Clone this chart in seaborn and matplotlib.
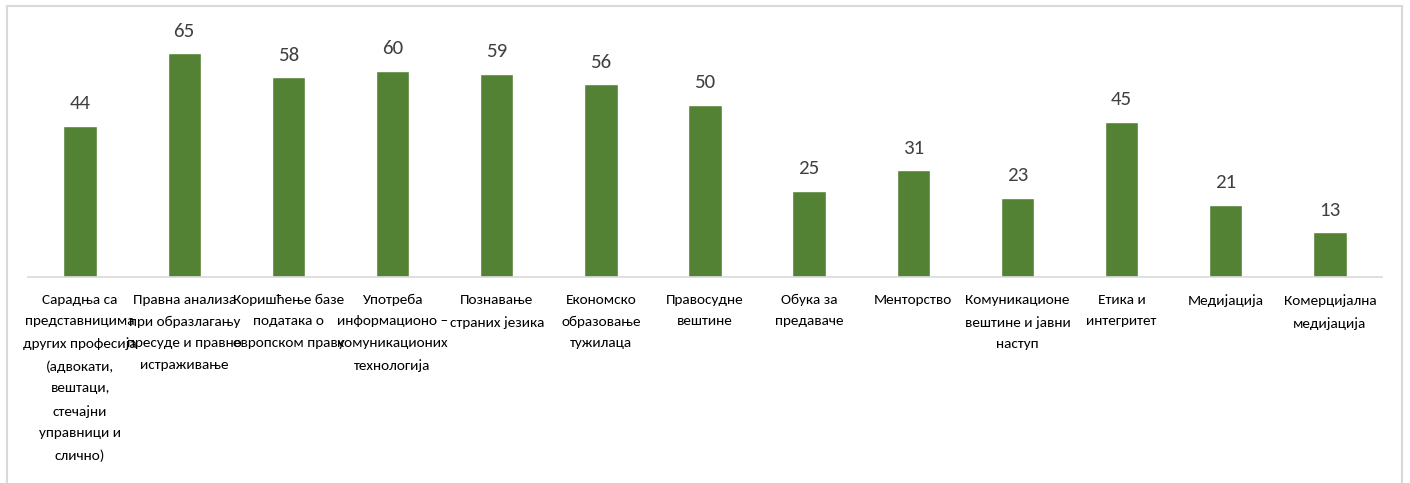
import matplotlib.pyplot as plt
import matplotlib.patches as mpatches
from matplotlib import font_manager
import seaborn as sns
import pandas as pd

# подаци
categories = [
    "Сарадња са\nпредставницима\nдругих професија\n(адвокати,\nвештаци,\nстечајни\nуправници и\nслично)",
    "Правна анализа\nпри образлагању\nпресуде и правно\nистраживање",
    "Коришћење базе\nподатака о\nевропском праву",
    "Употреба\nинформационо –\nкомуникационих\nтехнологија",
    "Познавање\nстраних језика",
    "Економско\nобразовање\nтужилаца",
    "Правосудне\nвештине",
    "Обука за\nпредаваче",
    "Менторство",
    "Комуникационе\nвештине и јавни\nнаступ",
    "Етика и\nинтегритет",
    "Медијација",
    "Комерцијална\nмедијација",
]
values = [44, 65, 58, 60, 59, 56, 50, 25, 31, 23, 45, 21, 13]

df = pd.DataFrame({"cat": categories, "val": values})

sns.set_style("white")

# узми најужи доступни фонт
font = "DejaVu Sans"
for name in ["Carlito", "Liberation Sans Narrow", "Lato", "Roboto"]:
    try:
        font_manager.findfont(name, fallback_to_default=False)
        font = name
        break
    except ValueError:
        pass
plt.rcParams["font.family"] = [font, "DejaVu Sans"]

fig = plt.figure(figsize=(14.1, 4.83), dpi=100)
ax = fig.add_axes([28 / 1410, 1 - 277 / 483, (1382 - 28) / 1410, 258 / 483])

sns.barplot(data=df, x="cat", y="val", color="#548235", saturation=1,
            width=0.32, ax=ax)

for i, v in enumerate(values):
    ax.text(i, v + 4, str(v), ha="center", va="bottom", fontsize=15, color="#404040")

ax.set_xlim(-0.5, len(values) - 0.5)
ax.set_ylim(0, 75)
ax.set_xlabel("")
ax.set_ylabel("")
ax.set_yticks([])
ax.tick_params(axis="x", length=0, pad=12)
ax.set_xticks(range(len(categories)))
ax.set_xticklabels(categories, fontsize=11, color="#000000", linespacing=1.95, va="top")
for s in ["top", "left", "right"]:
    ax.spines[s].set_visible(False)
ax.spines["bottom"].set_color("#d9d9d9")
ax.spines["bottom"].set_linewidth(1.2)

# рамка графикона
fig.patches.append(mpatches.Rectangle((7 / 1410, -0.05), 1395 / 1410, 1.05 - 6 / 483,
                                      transform=fig.transFigure, fill=False,
                                      edgecolor="#d9d9d9", linewidth=1.5))

fig.savefig("out.png", dpi=100)
